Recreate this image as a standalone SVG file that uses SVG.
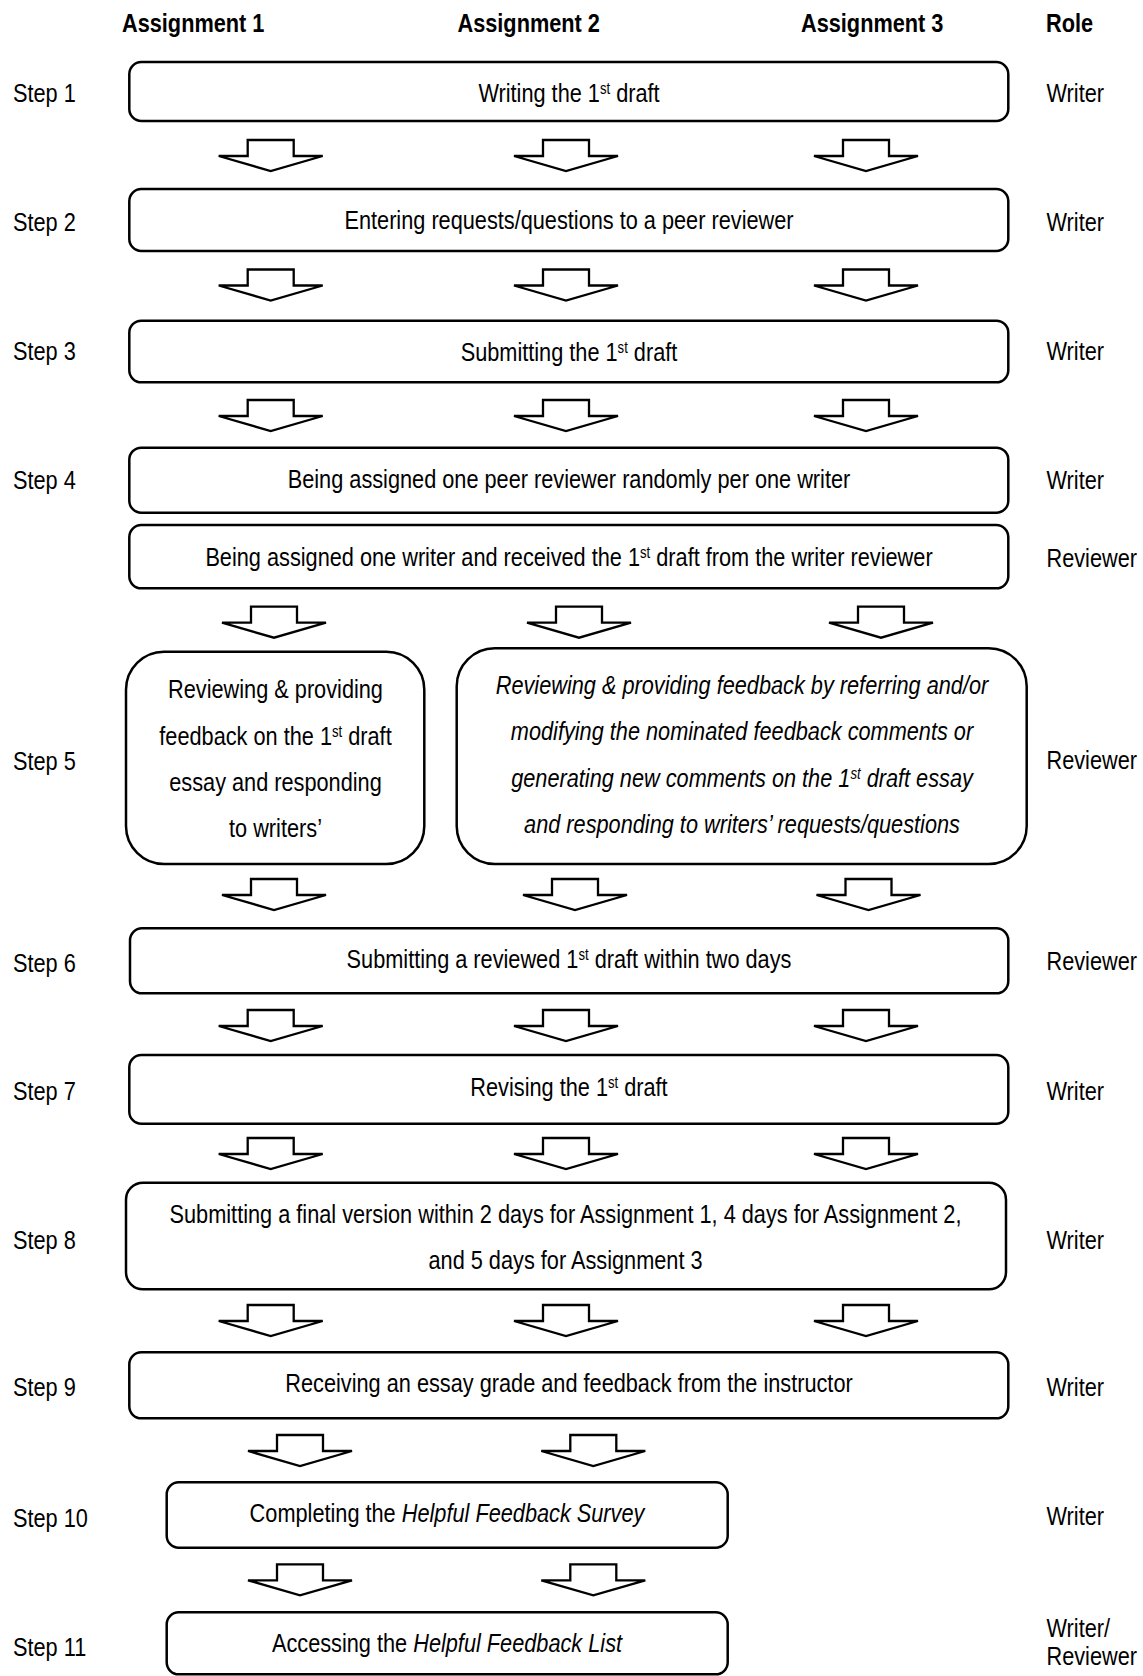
<svg xmlns="http://www.w3.org/2000/svg" xmlns:xlink="http://www.w3.org/1999/xlink" width="1143" height="1676" viewBox="0 0 1143 1676">
<style>
text{font-family:"Liberation Sans",Arial,sans-serif;font-size:26.5px;fill:#000}
.h{font-weight:bold}
.c{text-anchor:middle}
.i{font-style:italic}
.box{fill:#fff;stroke:#000;stroke-width:2.5}
.arr{fill:#fff;stroke:#000;stroke-width:2.3;stroke-linejoin:miter}
</style>
<defs>
<path id="arrow" class="arr" d="M-23,0 H23 V16 H52 L0,31 L-52,16 H-23 Z"/>
</defs>
<rect width="1143" height="1676" fill="#fff"/>
<g id="headers">
<text class="h" transform="translate(122,32) scale(0.82,1)">Assignment 1</text>
<text class="h" transform="translate(457.5,32) scale(0.82,1)">Assignment 2</text>
<text class="h" transform="translate(801,32) scale(0.82,1)">Assignment 3</text>
<text class="h" transform="translate(1046,32) scale(0.82,1)">Role</text>
</g>
<g id="steps">
<text transform="translate(13,101.5) scale(0.82,1)">Step 1</text>
<text transform="translate(13,230.8) scale(0.82,1)">Step 2</text>
<text transform="translate(13,360.2) scale(0.82,1)">Step 3</text>
<text transform="translate(13,488.5) scale(0.82,1)">Step 4</text>
<text transform="translate(13,769.7) scale(0.82,1)">Step 5</text>
<text transform="translate(13,971.8) scale(0.82,1)">Step 6</text>
<text transform="translate(13,1100.1) scale(0.82,1)">Step 7</text>
<text transform="translate(13,1248.7) scale(0.82,1)">Step 8</text>
<text transform="translate(13,1396.2) scale(0.82,1)">Step 9</text>
<text transform="translate(13,1526.7) scale(0.82,1)">Step 10</text>
<text transform="translate(13,1656) scale(0.82,1)">Step 11</text>
</g>
<g id="roles">
<text transform="translate(1046.5,101.5) scale(0.82,1)">Writer</text>
<text transform="translate(1046.5,230.8) scale(0.82,1)">Writer</text>
<text transform="translate(1046.5,360.2) scale(0.82,1)">Writer</text>
<text transform="translate(1046.5,489) scale(0.82,1)">Writer</text>
<text transform="translate(1046.5,566.5) scale(0.82,1)">Reviewer</text>
<text transform="translate(1046.5,768.5) scale(0.82,1)">Reviewer</text>
<text transform="translate(1046.5,970) scale(0.82,1)">Reviewer</text>
<text transform="translate(1046.5,1100) scale(0.82,1)">Writer</text>
<text transform="translate(1046.5,1248.5) scale(0.82,1)">Writer</text>
<text transform="translate(1046.5,1395.7) scale(0.82,1)">Writer</text>
<text transform="translate(1046.5,1525) scale(0.82,1)">Writer</text>
<text transform="translate(1046.5,1636.7) scale(0.82,1)">Writer/</text>
<text transform="translate(1046.5,1665) scale(0.82,1)">Reviewer</text>
</g>
<g id="connectors">
<use xlink:href="#arrow" transform="translate(270.7,140)"/>
<use xlink:href="#arrow" transform="translate(566,140)"/>
<use xlink:href="#arrow" transform="translate(866,140)"/>
<use xlink:href="#arrow" transform="translate(270.7,269.5)"/>
<use xlink:href="#arrow" transform="translate(566,269.5)"/>
<use xlink:href="#arrow" transform="translate(866,269.5)"/>
<use xlink:href="#arrow" transform="translate(270.7,400)"/>
<use xlink:href="#arrow" transform="translate(566,400)"/>
<use xlink:href="#arrow" transform="translate(866,400)"/>
<use xlink:href="#arrow" transform="translate(274,606.7)"/>
<use xlink:href="#arrow" transform="translate(579,606.7)"/>
<use xlink:href="#arrow" transform="translate(881,606.7)"/>
<use xlink:href="#arrow" transform="translate(274,879)"/>
<use xlink:href="#arrow" transform="translate(575,879)"/>
<use xlink:href="#arrow" transform="translate(868.5,879)"/>
<use xlink:href="#arrow" transform="translate(270.7,1010)"/>
<use xlink:href="#arrow" transform="translate(566,1010)"/>
<use xlink:href="#arrow" transform="translate(866,1010)"/>
<use xlink:href="#arrow" transform="translate(270.7,1138)"/>
<use xlink:href="#arrow" transform="translate(566,1138)"/>
<use xlink:href="#arrow" transform="translate(866,1138)"/>
<use xlink:href="#arrow" transform="translate(270.7,1305)"/>
<use xlink:href="#arrow" transform="translate(566,1305)"/>
<use xlink:href="#arrow" transform="translate(866,1305)"/>
<use xlink:href="#arrow" transform="translate(300,1435)"/>
<use xlink:href="#arrow" transform="translate(593.3,1435)"/>
<use xlink:href="#arrow" transform="translate(300,1564.3)"/>
<use xlink:href="#arrow" transform="translate(593.3,1564.3)"/>
</g>
<g id="step1">
<rect class="box" x="129.3" y="62" width="879" height="59" rx="12"/>
<text class="c" transform="translate(569,101.7) scale(0.82,1)">Writing the 1<tspan font-size="16" dy="-8">st</tspan><tspan dy="8"> draft</tspan></text>
</g>
<g id="step2">
<rect class="box" x="129.3" y="189" width="879" height="62" rx="12"/>
<text class="c" transform="translate(569,229.3) scale(0.82,1)">Entering requests/questions to a peer reviewer</text>
</g>
<g id="step3">
<rect class="box" x="129.3" y="320.7" width="879" height="61.6" rx="12"/>
<text class="c" transform="translate(569,360.7) scale(0.82,1)">Submitting the 1<tspan font-size="16" dy="-8">st</tspan><tspan dy="8"> draft</tspan></text>
</g>
<g id="step4a">
<rect class="box" x="129.3" y="447.7" width="879" height="65" rx="12"/>
<text class="c" transform="translate(569,487.7) scale(0.82,1)">Being assigned one peer reviewer randomly per one writer</text>
</g>
<g id="step4b">
<rect class="box" x="129.3" y="525" width="879" height="63.3" rx="12"/>
<text class="c" transform="translate(569,566) scale(0.82,1)">Being assigned one writer and received the 1<tspan font-size="16" dy="-8">st</tspan><tspan dy="8"> draft from the writer reviewer</tspan></text>
</g>
<g id="step5a">
<rect class="box" x="126" y="651.7" width="298.3" height="212.3" rx="38"/>
<text class="c" transform="translate(275.5,698.3) scale(0.82,1)">Reviewing &amp; providing</text>
<text class="c" transform="translate(275.5,745) scale(0.82,1)">feedback on the 1<tspan font-size="16" dy="-8">st</tspan><tspan dy="8"> draft</tspan></text>
<text class="c" transform="translate(275.5,790.7) scale(0.82,1)">essay and responding</text>
<text class="c" transform="translate(275.5,836.7) scale(0.82,1)">to writers’</text>
</g>
<g id="step5b">
<rect class="box" x="456.7" y="648.3" width="570" height="215.7" rx="38"/>
<text class="c i" transform="translate(742,694.3) scale(0.82,1)">Reviewing &amp; providing feedback by referring and/or</text>
<text class="c i" transform="translate(742,740) scale(0.82,1)">modifying the nominated feedback comments or</text>
<text class="c i" transform="translate(742,786.7) scale(0.82,1)">generating new comments on the 1<tspan font-size="16" dy="-8">st</tspan><tspan dy="8"> draft essay</tspan></text>
<text class="c i" transform="translate(742,833.3) scale(0.82,1)">and responding to writers’ requests/questions</text>
</g>
<g id="step6">
<rect class="box" x="130" y="928.3" width="878.3" height="65" rx="12"/>
<text class="c" transform="translate(569,968.3) scale(0.82,1)">Submitting a reviewed 1<tspan font-size="16" dy="-8">st</tspan><tspan dy="8"> draft within two days</tspan></text>
</g>
<g id="step7">
<rect class="box" x="129.3" y="1055" width="879" height="68.7" rx="12"/>
<text class="c" transform="translate(569,1096) scale(0.82,1)">Revising the 1<tspan font-size="16" dy="-8">st</tspan><tspan dy="8"> draft</tspan></text>
</g>
<g id="step8">
<rect class="box" x="126" y="1182.7" width="880" height="106.6" rx="17"/>
<text class="c" transform="translate(565.5,1222.7) scale(0.82,1)">Submitting a final version within 2 days for Assignment 1, 4 days for Assignment 2,</text>
<text class="c" transform="translate(565.5,1269) scale(0.82,1)">and 5 days for Assignment 3</text>
</g>
<g id="step9">
<rect class="box" x="129.3" y="1352.3" width="879" height="66" rx="12"/>
<text class="c" transform="translate(569,1391.7) scale(0.82,1)">Receiving an essay grade and feedback from the instructor</text>
</g>
<g id="step10">
<rect class="box" x="166.7" y="1482.3" width="561" height="65.4" rx="12"/>
<text class="c" transform="translate(447,1521.7) scale(0.82,1)">Completing the <tspan class="i">Helpful Feedback Survey</tspan></text>
</g>
<g id="step11">
<rect class="box" x="166.7" y="1612.3" width="561" height="62" rx="12"/>
<text class="c" transform="translate(447,1651.7) scale(0.82,1)">Accessing the <tspan class="i">Helpful Feedback List</tspan></text>
</g>
</svg>
